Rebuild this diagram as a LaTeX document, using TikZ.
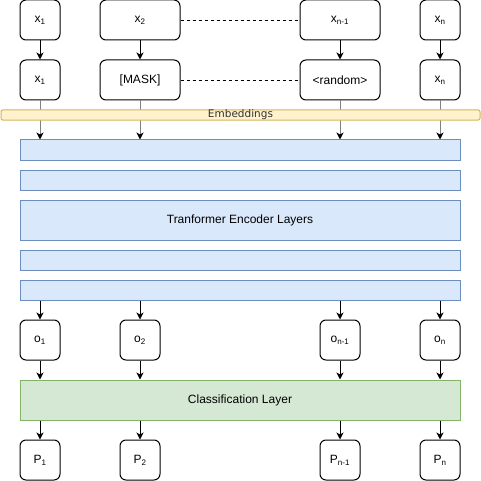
\documentclass[tikz,border=0pt]{standalone}
\usepackage{fontspec}
\setmainfont{Liberation Sans}
\newfontfamily\embfont{DejaVu Sans}
\usetikzlibrary{arrows.meta}
\definecolor{layerfill}{HTML}{DAE8FC}
\definecolor{layerline}{HTML}{6C8EBF}
\definecolor{embfill}{HTML}{FFF2CC}
\definecolor{embline}{HTML}{D6B656}
\definecolor{clsfill}{HTML}{D5E8D4}
\definecolor{clsline}{HTML}{82B366}

\begin{document}
\begin{tikzpicture}[x=1pt,y=-1pt,line width=1pt,
    font=\fontsize{12}{14}\selectfont,
    tok/.style={draw,rounded corners=6pt,minimum width=40pt,minimum height=40pt,inner sep=0pt},
    widetok/.style={tok,minimum width=80pt},
    layer/.style={draw=layerline,fill=layerfill,minimum width=440pt,minimum height=20pt,inner sep=0pt},
    arr/.style={-{Stealth[length=7pt,width=7pt,inset=2pt,black]}}]
    \useasboundingbox (0,0) rectangle (481,481);
    % input tokens
    \node[tok] (x1) at (40,20) {x\textsubscript{1}};
    \node[widetok] (x2) at (140,20) {x\textsubscript{2}};
    \node[widetok] (xn1) at (340,20) {x\textsubscript{n-1}};
    \node[tok] (xn) at (440,20) {x\textsubscript{n}};
    % masked tokens
    \node[tok] (m1) at (40,80) {x\textsubscript{1}};
    \node[widetok] (m2) at (140,80) {[MASK]};
    \node[widetok] (mn1) at (340,80) {<random>};
    \node[tok] (mn) at (440,80) {x\textsubscript{n}};
    \draw[dashed,line width=0.6pt,dash pattern=on 3pt off 3pt] (x2) -- (xn1);
    \draw[dashed,line width=0.6pt,dash pattern=on 3pt off 3pt] (m2) -- (mn1);
    \draw[arr] (x1) -- (m1);
    \draw[arr] (x2) -- (m2);
    \draw[arr] (xn1) -- (mn1);
    \draw[arr] (xn) -- (mn);
    % encoder stack
    \node[layer] (l1) at (240,150) {};
    \node[layer] (l2) at (240,180) {};
    \node[layer,minimum height=40pt] (l3) at (240,220) {Tranformer Encoder Layers};
    \node[layer] (l4) at (240,260) {};
    \node[layer] (l5) at (240,290) {};
    \draw[arr,black!50] (m1) -- (m1 |- l1.north);
    \draw[arr,black!50] (m2) -- (m2 |- l1.north);
    \draw[arr,black!50] (mn1) -- (mn1 |- l1.north);
    \draw[arr,black!50] (mn) -- (mn |- l1.north);
    \node[draw=embline,fill=embfill,rounded corners=2pt,minimum width=479pt,minimum height=10pt,inner sep=0pt,
      font=\embfont\fontsize{10.5}{10.5}\selectfont,text=black!80] (emb) at (240.5,115) {Embeddings};
    % outputs
    \node[tok] (o1) at (40,340) {o\textsubscript{1}};
    \node[tok] (o2) at (140,340) {o\textsubscript{2}};
    \node[tok] (on1) at (340,340) {o\textsubscript{n-1}};
    \node[tok] (on) at (440,340) {o\textsubscript{n}};
    \draw[arr] (o1 |- l5.south) -- (o1);
    \draw[arr] (o2 |- l5.south) -- (o2);
    \draw[arr] (on1 |- l5.south) -- (on1);
    \draw[arr] (on |- l5.south) -- (on);
    \node[draw=clsline,fill=clsfill,minimum width=440pt,minimum height=40pt,inner sep=0pt] (cls) at (240,400) {Classification Layer};
    \draw[arr] (o1) -- (o1 |- cls.north);
    \draw[arr] (o2) -- (o2 |- cls.north);
    \draw[arr] (on1) -- (on1 |- cls.north);
    \draw[arr] (on) -- (on |- cls.north);
    % predictions
    \node[tok] (p1) at (40,460) {P\textsubscript{1}};
    \node[tok] (p2) at (140,460) {P\textsubscript{2}};
    \node[tok] (pn1) at (340,460) {P\textsubscript{n-1}};
    \node[tok] (pn) at (440,460) {P\textsubscript{n}};
    \draw[arr] (p1 |- cls.south) -- (p1);
    \draw[arr] (p2 |- cls.south) -- (p2);
    \draw[arr] (pn1 |- cls.south) -- (pn1);
    \draw[arr] (pn |- cls.south) -- (pn);
\end{tikzpicture}
\end{document}
